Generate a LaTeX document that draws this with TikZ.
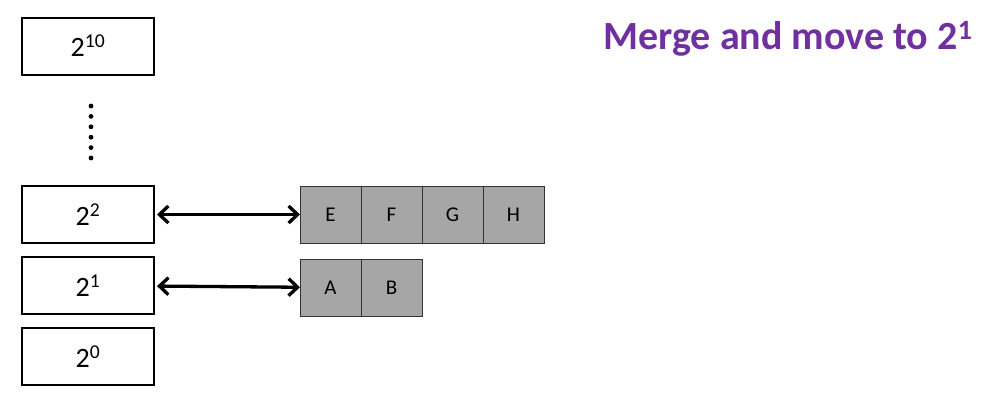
\documentclass[tikz,border=0pt]{standalone}
\usepackage{fontspec}
\setmainfont{Carlito}
\usetikzlibrary{arrows.meta,positioning}
\definecolor{mergepurple}{RGB}{112,48,160}
\definecolor{cellgray}{RGB}{166,166,166}
\tikzset{
  level/.style={draw, line width=2pt, minimum width=132pt, minimum height=57pt,
    inner sep=0pt, outer sep=0pt, font=\fontsize{28}{32}\selectfont},
  cell/.style={draw=black!80, fill=cellgray, line width=1pt, minimum width=61pt,
    minimum height=57pt, inner sep=0pt, outer sep=0pt, font=\fontsize{21}{24}\selectfont},
  link/.style={{Straight Barb[length=9pt,width=17pt]}-{Straight Barb[length=9pt,width=17pt]},
    line width=3.3pt, shorten <=3pt}
}
\begin{document}
\begin{tikzpicture}[x=1pt,y=-1pt]
\useasboundingbox (0,0) rectangle (1003,405);

% levels
\node [level] (l10) at (88,46) {2\textsuperscript{10}};
\node [level] (l2) at (88,214.5) {2\textsuperscript{2}};
\node [level] (l1) at (88,285.5) {2\textsuperscript{1}};
\node [level] (l0) at (88,356.5) {2\textsuperscript{0}};
\foreach \y in {106,116.4,126.8,137.2,147.6,158} \fill (91,\y) circle (2.4pt);

% runs
\node [cell] (e) at (330.5,214.5) {E};
\node [cell, right=0pt of e] (f) {F};
\node [cell, right=0pt of f] (g) {G};
\node [cell, right=0pt of g] (h) {H};
\node [cell] (a) at (330.5,287.5) {A};
\node [cell, right=0pt of a] (b) {B};

\draw [link] (l2) -- (e);
\draw [link] (l1) -- (a);

\node [anchor=base east, text=mergepurple, font=\fontsize{40}{44}\selectfont\bfseries] (title) at (976,49) {Merge and move to 2\textsuperscript{1}};
\end{tikzpicture}
\end{document}
